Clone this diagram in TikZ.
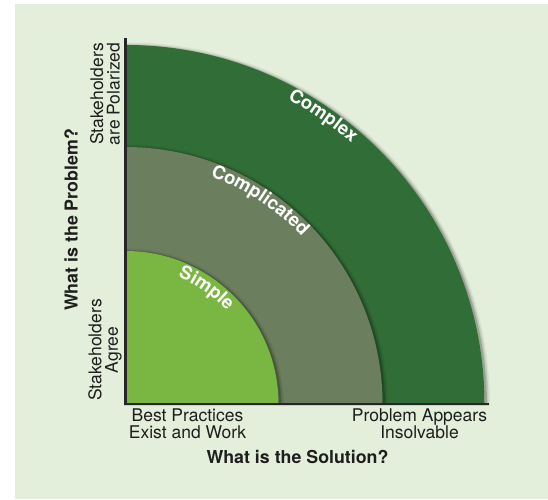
\documentclass[tikz,border=0pt]{standalone}
\usepackage{fontspec}
\setmainfont{TeX Gyre Heros}
\usetikzlibrary{decorations.text}
\definecolor{bg}{HTML}{E3EFDA}
\definecolor{cplx}{HTML}{316E37}
\definecolor{cmpl}{HTML}{6B7F5F}
\definecolor{simp}{HTML}{7AB642}
\definecolor{axisc}{HTML}{262626}
\definecolor{txt}{HTML}{1E1E1E}
\newcommand\bandshadow[1]{%
  \begin{scope}
    \clip (O) rectangle (548,499);
    \draw[black,opacity=0.06,line width=8,shift={(1.5,-1.5)}] ([shift={(O)}]90:#1) arc[start angle=90,end angle=0,radius=#1];
    \draw[black,opacity=0.10,line width=5,shift={(1.5,-1.5)}] ([shift={(O)}]90:#1) arc[start angle=90,end angle=0,radius=#1];
    \draw[black,opacity=0.18,line width=2.5,shift={(1.2,-1.2)}] ([shift={(O)}]90:#1) arc[start angle=90,end angle=0,radius=#1];
  \end{scope}}
\begin{document}
\begin{tikzpicture}[x=1pt,y=1pt,
  lab/.style={font=\fontsize{17.5}{16.6}\selectfont, text=txt, align=center, inner sep=0pt},
  ttl/.style={font=\fontsize{17.8}{17.8}\selectfont\bfseries, text=txt, inner sep=0pt},
  arclab/.style={decorate, decoration={text along path, text align=center, text color=white, text={|\fontsize{18.5}{18.5}\selectfont\bfseries|#1}}}
]
\useasboundingbox (0,0) rectangle (548,499);
\fill[bg] (15,0) rectangle (548,495);
\coordinate (O) at (125.5,95);
\coordinate (ytop) at (125.5,461);
\coordinate (xend) at (489,95);

% Complex band
\bandshadow{359}
\fill[cplx] (O) -- ++(0:359) arc[start angle=0,end angle=90,radius=359] -- cycle;
% Complicated band
\bandshadow{257}
\fill[cmpl] (O) -- ++(0:257) arc[start angle=0,end angle=90,radius=257] -- cycle;
% Simple band
\bandshadow{153}
\fill[simp] (O) -- ++(0:153) arc[start angle=0,end angle=90,radius=153] -- cycle;

% curved labels
\path[arclab=Complex, shift={(O)}] (85:345) arc[start angle=85,end angle=26,radius=345];
\path[arclab=Complicated, shift={(O)}] (88:243) arc[start angle=88,end angle=25,radius=243];
\path[arclab=Simple, shift={(O)}] (89:137.5) arc[start angle=89,end angle=21,radius=137.5];

% axes
\draw[black,opacity=0.12,line width=3,shift={(0.8,-1.8)}] (ytop) |- (xend);
\draw[axisc,line width=2.6] (ytop) |- (xend);

% axis texts
\node[lab, rotate=90] (pol) at (105,405) {Stakeholders\\are Polarized};
\node[lab, rotate=90] (agr) at (105,149) {Stakeholders\\Agree};
\node[ttl, rotate=90] (prob) at (71,279) {What is the Problem?};
\node[lab] (best) at (187.5,75) {Best Practices\\Exist and Work};
\node[lab] (insol) at (419.5,75) {Problem Appears\\Insolvable};
\node[ttl] (sol) at (297.5,42) {What is the Solution?};
\end{tikzpicture}
\end{document}
